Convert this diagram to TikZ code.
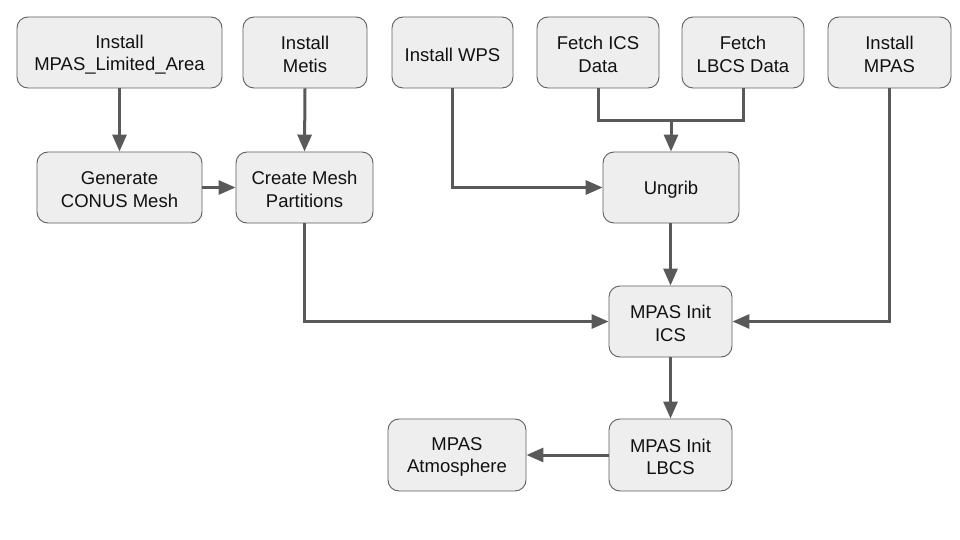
\documentclass[tikz,border=0pt]{standalone}
\usepackage{fontspec}
\setmainfont{Liberation Sans}
\usetikzlibrary{arrows.meta}
\definecolor{boxfill}{HTML}{EEEEEE}
\definecolor{boxline}{HTML}{5F5F5F}
\definecolor{arrowc}{HTML}{595959}
\definecolor{txt}{HTML}{111111}
\begin{document}
\begin{tikzpicture}[x=1pt,y=-1pt,
  stepbox/.style={draw=boxline, line width=0.9pt, fill=boxfill, rounded corners=11pt,
    inner sep=0pt,
    label={[boxtext]center:{#1}}},
  boxtext/.style={align=center, text=txt, inner sep=0pt, yshift=-2pt,
    font=\fontsize{18.5}{22.4}\selectfont},
  conn/.style={draw=arrowc, line width=3pt, -{Triangle[length=17pt,width=14pt]}},
  plain/.style={draw=arrowc, line width=3pt}
]
\useasboundingbox (0,0) rectangle (960,540);
\fill[white] (0,0) rectangle (960,540);

\node[stepbox={Install\\MPAS\_Limited\_Area}, minimum width=205pt, minimum height=71pt] (ila) at (119.5,52.5) {};
\node[stepbox={Install\\Metis}, minimum width=124pt, minimum height=71pt] (imetis) at (305,52.5) {};
\node[stepbox={Install WPS}, minimum width=121pt, minimum height=71pt] (iwps) at (452.5,52.5) {};
\node[stepbox={Fetch ICS\\Data}, minimum width=122pt, minimum height=71pt] (fics) at (598,52.5) {};
\node[stepbox={Fetch\\LBCS Data}, minimum width=122pt, minimum height=71pt] (flbcs) at (743,52.5) {};
\node[stepbox={Install\\MPAS}, minimum width=123pt, minimum height=71pt] (impas) at (889.5,52.5) {};

\node[stepbox={Generate\\CONUS Mesh}, minimum width=165pt, minimum height=71pt] (gen) at (119.5,187.5) {};
\node[stepbox={Create Mesh\\Partitions}, minimum width=137pt, minimum height=71pt] (cmp) at (304.5,187.5) {};
\node[stepbox={Ungrib}, minimum width=136pt, minimum height=71pt] (ungrib) at (671,187.5) {};

\node[stepbox={MPAS Init\\ICS}, minimum width=123pt, minimum height=71pt] (ics) at (670.5,321.5) {};
\node[stepbox={MPAS Init\\LBCS}, minimum width=123pt, minimum height=72pt] (lbcs) at (670.5,455) {};
\node[stepbox={MPAS\\Atmosphere}, minimum width=138pt, minimum height=72pt] (atm) at (457,455) {};

\coordinate (jn) at (671,121);

\draw[conn] (ila.south) -- (gen.north);
\draw[conn] (imetis.south) -- (cmp.north);
\draw[conn] (gen.east) -- (cmp.west);
\draw[conn] (iwps.south) |- (ungrib.west);
\draw[plain] (fics.south) |- (jn) -| (flbcs.south);
\draw[conn] (jn) -- (ungrib.north);
\draw[conn] (ungrib.south -| ics.north) -- (ics.north);
\draw[conn] (cmp.south) |- (ics.west);
\draw[conn] (impas.south) |- (ics.east);
\draw[conn] (ics.south) -- (lbcs.north);
\draw[conn] (lbcs.west) -- (atm.east);
\end{tikzpicture}
\end{document}
